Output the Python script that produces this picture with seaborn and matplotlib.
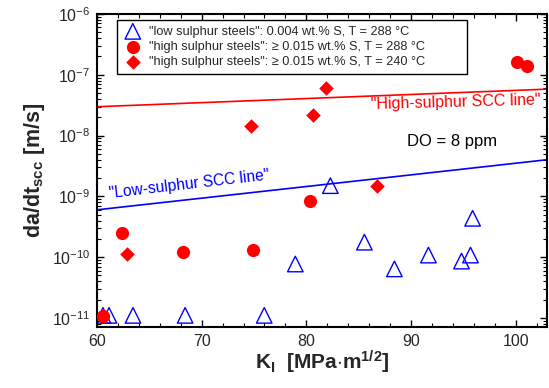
import numpy as np
import pandas as pd
import matplotlib
matplotlib.use("Agg")
import matplotlib.pyplot as plt
import seaborn as sns

# ---- data ----
low_K = [60.57, 61.15, 63.44, 68.42, 75.98, 78.95, 82.30, 85.55, 88.42, 91.67, 94.83, 95.69, 95.89]
low_rate = [1.1e-11, 1.1e-11, 1.1e-11, 1.1e-11, 1.1e-11, 7.7e-11, 1.5e-9, 1.76e-10, 6.4e-11, 1.08e-10, 8.6e-11, 1.08e-10, 4.35e-10]

high288_K = [60.55, 62.36, 68.20, 74.90, 80.38, 100.10, 101.05]
high288_rate = [1.07e-11, 2.47e-10, 1.22e-10, 1.31e-10, 8.5e-10, 1.62e-7, 1.4e-7]

high240_K = [62.84, 74.74, 80.67, 81.90, 86.77]
high240_rate = [1.12e-10, 1.46e-8, 2.2e-8, 6.1e-8, 1.5e-9]

line_K = [60, 103]
high_line = [2.98e-8, 5.8e-8]
low_line = [6.0e-10, 4.0e-9]

legend_labels = [
    '"low sulphur steels": 0.004 wt.% S, T = 288 °C',
    '"high sulphur steels": \u2265 0.015 wt.% S, T = 288 °C',
    '"high sulphur steels": \u2265 0.015 wt.% S, T = 240 °C',
]

sns.set_style("ticks")
plt.rcParams['font.family'] = ['Liberation Sans', 'DejaVu Sans']
plt.rcParams['mathtext.fontset'] = 'custom'
plt.rcParams['mathtext.rm'] = 'Liberation Sans'
plt.rcParams['mathtext.bf'] = 'Liberation Sans:bold'
plt.rcParams['mathtext.it'] = 'Liberation Sans:italic'

fig = plt.figure(figsize=(5.49, 3.88), dpi=100)
ax = fig.add_axes([97/549, 1-327/388, 450/549, 313/388])

sns.lineplot(x=line_K, y=high_line, color='#ff0000', lw=1.2, ax=ax)
sns.lineplot(x=line_K, y=low_line, color='#0000ff', lw=1.2, ax=ax)

sns.scatterplot(x=low_K, y=low_rate, marker='^', s=125, facecolors='none',
                edgecolors='#0000ff', linewidth=1.0, ax=ax, label=legend_labels[0], zorder=3)
sns.scatterplot(x=high288_K, y=high288_rate, marker='o', s=90, color='#ff0000',
                edgecolor='#ff0000', linewidth=0, ax=ax, label=legend_labels[1], zorder=4)
sns.scatterplot(x=high240_K, y=high240_rate, marker='D', s=55, color='#ff0000',
                edgecolor='#ff0000', linewidth=0, ax=ax, label=legend_labels[2], zorder=4)

ax.set_yscale('log')
ax.set_xlim(60, 103)
ax.set_ylim(10**(-11.15), 1e-6)
ax.set_xticks([60, 70, 80, 90, 100])
ax.xaxis.set_minor_locator(matplotlib.ticker.MultipleLocator(2))
ax.yaxis.set_major_locator(matplotlib.ticker.LogLocator(base=10, numticks=20))
ax.yaxis.set_minor_locator(matplotlib.ticker.LogLocator(base=10, subs=np.arange(2, 10), numticks=20))
ax.yaxis.set_minor_formatter(matplotlib.ticker.NullFormatter())
ax.tick_params(which='both', direction='in', top=True, right=True, labelsize=11.5, color='black')
ax.tick_params(which='major', length=5, width=1)
ax.tick_params(which='minor', length=3, width=0.8)
ax.tick_params(axis='x', pad=5)
ax.tick_params(axis='y', pad=5)
for s in ax.spines.values():
    s.set_color('black')
    s.set_linewidth(1.5)

ax.set_xlabel(r'$\mathbf{K_I}$  [MPa$\mathbf{\cdot}$m$\mathbf{^{1/2}}$]', fontsize=15, fontweight='bold', labelpad=0)
ax.set_ylabel(r'da/dt$\mathbf{_{scc}}$ [m/s]', fontsize=15.5, fontweight='bold', labelpad=3)

ax.text(94.3, 3.5e-8, '"High-sulphur SCC line"', color='#ff0000', fontsize=11.5,
        ha='center', va='center', rotation=1.5)
ax.text(61.2, 8.3e-10, '"Low-sulphur SCC line"', color='#0000ff', fontsize=11.2,
        ha='left', va='bottom', rotation=6.6, rotation_mode='anchor')
ax.text(89.67, 8.0e-9, 'DO = 8 ppm', color='black', fontsize=12, ha='left', va='center')

leg = ax.legend(loc='upper left', bbox_to_anchor=(0.044, 0.35, 0.778, 0.631), mode='expand',
                borderaxespad=0, fontsize=9.2, frameon=True, fancybox=False, edgecolor='black',
                framealpha=1, labelspacing=0.26, handletextpad=0.5, borderpad=0.45, handlelength=1.6)
leg.get_frame().set_linewidth(1.0)

fig.savefig('out.png', dpi=100)
